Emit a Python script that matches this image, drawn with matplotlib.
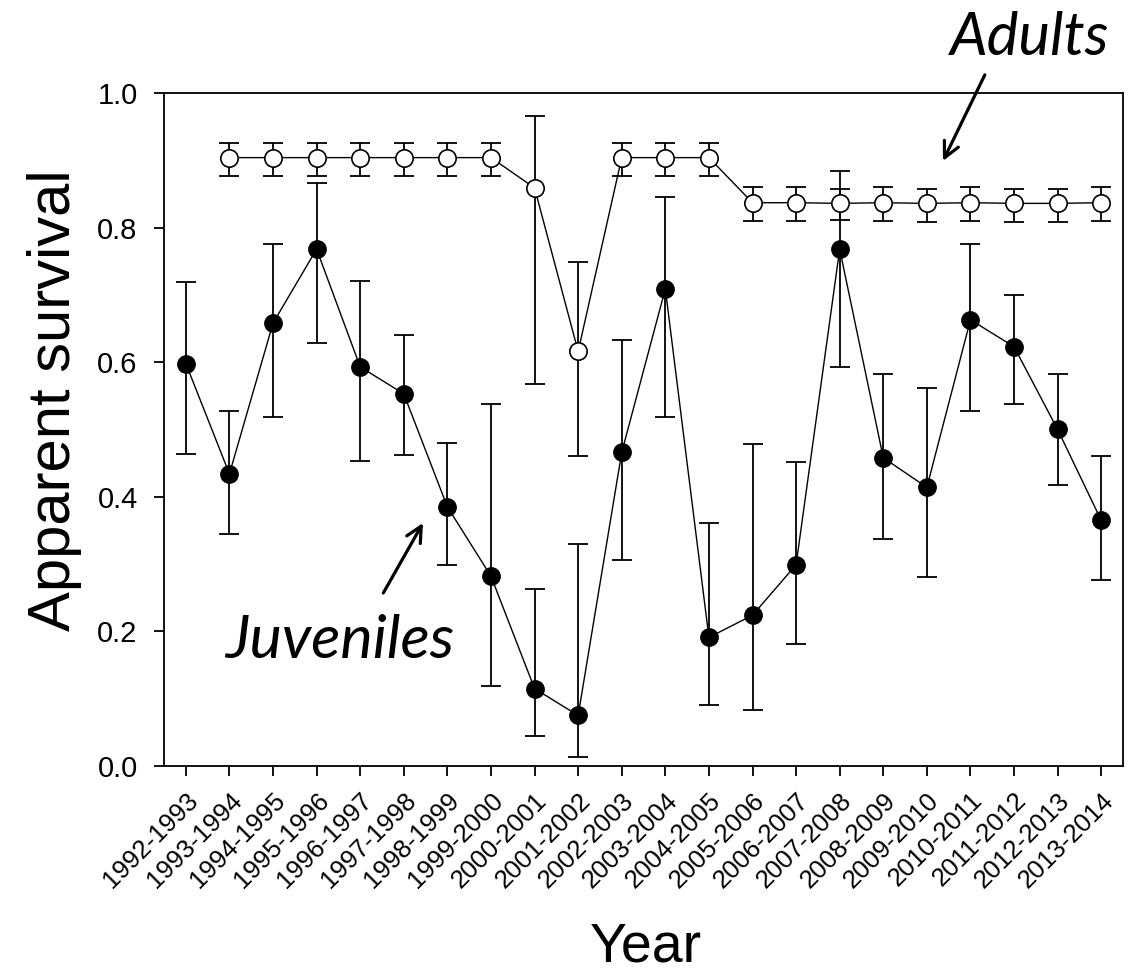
import matplotlib
matplotlib.use("Agg")
import matplotlib.pyplot as plt
import numpy as np

years = ["1992-1993", "1993-1994", "1994-1995", "1995-1996", "1996-1997",
         "1997-1998", "1998-1999", "1999-2000", "2000-2001", "2001-2002",
         "2002-2003", "2003-2004", "2004-2005", "2005-2006", "2006-2007",
         "2007-2008", "2008-2009", "2009-2010", "2010-2011", "2011-2012",
         "2012-2013", "2013-2014"]

# Juvenile apparent survival with lower / upper confidence limits
juv = [0.598, 0.434, 0.658, 0.768, 0.593, 0.553, 0.385, 0.282, 0.115, 0.075,
       0.466, 0.709, 0.191, 0.224, 0.299, 0.768, 0.458, 0.414, 0.663, 0.623,
       0.500, 0.365]
juv_lo = [0.464, 0.344, 0.519, 0.629, 0.453, 0.462, 0.299, 0.119, 0.045, 0.013,
          0.306, 0.519, 0.090, 0.083, 0.181, 0.593, 0.338, 0.281, 0.527, 0.538,
          0.418, 0.277]
juv_hi = [0.719, 0.527, 0.775, 0.867, 0.720, 0.640, 0.480, 0.538, 0.263, 0.330,
          0.633, 0.845, 0.361, 0.479, 0.451, 0.884, 0.583, 0.562, 0.775, 0.700,
          0.583, 0.461]

# Adult apparent survival (from 1993-1994 onward)
adu = [0.904, 0.904, 0.904, 0.904, 0.904, 0.904, 0.904, 0.859, 0.616,
       0.904, 0.904, 0.904, 0.837, 0.837, 0.836, 0.837, 0.836, 0.837, 0.836,
       0.836, 0.837]
adu_lo = [0.876, 0.876, 0.876, 0.876, 0.876, 0.876, 0.876, 0.567, 0.461,
          0.876, 0.876, 0.876, 0.810, 0.810, 0.811, 0.810, 0.809, 0.810, 0.809,
          0.809, 0.810]
adu_hi = [0.926, 0.926, 0.926, 0.926, 0.926, 0.926, 0.926, 0.966, 0.749,
          0.926, 0.926, 0.926, 0.860, 0.860, 0.858, 0.860, 0.858, 0.860, 0.858,
          0.858, 0.860]

y_ticks = [0.0, 0.2, 0.4, 0.6, 0.8, 1.0]

font = "Liberation Sans"
note_font = "Lato"

fig = plt.figure(figsize=(11.29, 9.76), dpi=100)
ax = fig.add_axes([0.1453, 0.2152, 0.9947 - 0.1453, 0.9047 - 0.2152])

xj = np.arange(len(years))
xa = xj[1:]

juv = np.array(juv)
adu = np.array(adu)
juv_err = [juv - np.array(juv_lo), np.array(juv_hi) - juv]
adu_err = [adu - np.array(adu_lo), np.array(adu_hi) - adu]

ax.errorbar(xj, juv, yerr=juv_err, fmt="none", ecolor="black",
            elinewidth=1.3, capsize=7.5, capthick=1.3, zorder=2)
ax.plot(xj, juv, color="black", lw=1.0, marker="o", ms=12.5,
        mfc="black", mec="black", zorder=3)

ax.errorbar(xa, adu, yerr=adu_err, fmt="none", ecolor="black",
            elinewidth=1.3, capsize=7.5, capthick=1.3, zorder=2)
ax.plot(xa, adu, color="black", lw=1.0, marker="o", ms=12.5,
        mfc="white", mec="black", mew=1.2, zorder=3)

ax.set_xlim(-0.5, len(years) - 0.5)
ax.set_ylim(0.0, 1.0)
ax.set_yticks(y_ticks)
ax.set_yticklabels([f"{v:.1f}" for v in y_ticks], fontfamily=font, fontsize=21)
ax.set_xticks(xj)
ax.set_xticklabels(years, rotation=45, ha="right", rotation_mode="anchor",
                   fontfamily=font, fontsize=18.5)
ax.tick_params(axis="both", direction="out", length=7, width=1.3, colors="black")
ax.tick_params(axis="x", pad=9)
ax.tick_params(axis="y", pad=12)
for s in ax.spines.values():
    s.set_linewidth(1.3)

ax.set_ylabel("Apparent survival", fontfamily=font, fontsize=43)
ax.yaxis.set_label_coords(-0.086, 0.544)
fig.text(0.5725, 0.003, "Year", fontfamily=font, fontsize=40,
         ha="center", va="bottom")

# Annotations
ax.text(19.35, 1.082, "Adults", fontfamily=note_font, style="italic",
        fontsize=43, ha="center", va="center", clip_on=False)
ax.annotate("", xy=(17.37, 0.899), xytext=(18.33, 1.027),
            arrowprops=dict(arrowstyle="->", lw=2.3, color="black",
                            mutation_scale=28, shrinkA=0, shrinkB=0),
            annotation_clip=False)
ax.text(3.54, 0.186, "Juveniles", fontfamily=note_font, style="italic",
        fontsize=44, ha="center", va="center")
ax.annotate("", xy=(5.44, 0.361), xytext=(4.53, 0.257),
            arrowprops=dict(arrowstyle="->", lw=2.3, color="black",
                            mutation_scale=28, shrinkA=0, shrinkB=0))

fig.savefig("out.png", dpi=100)
